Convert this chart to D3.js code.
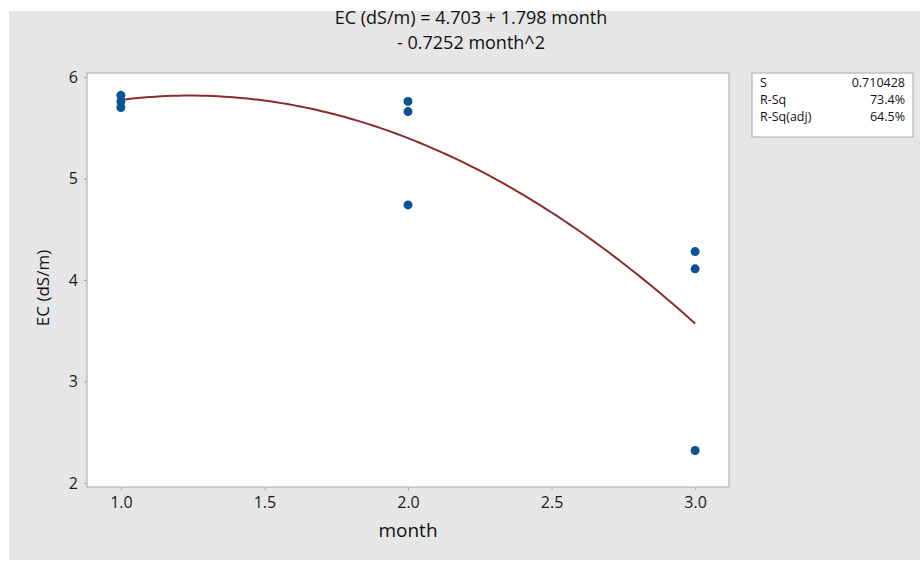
<!DOCTYPE html>
<html>
<head>
<meta charset="utf-8">
<script src="https://cdn.jsdelivr.net/npm/d3@7"></script>
<style>
  body{margin:0;background:#fff;}
  svg{display:block;font-family:"Open Sans","Noto Sans",sans-serif;}
</style>
</head>
<body>
<svg id="svg" width="922" height="561"></svg>
<script>
const months=[1,1,1,2,2,2,3,3,3];
const ecValues=[5.82,5.76,5.70,5.76,5.66,4.74,4.28,4.11,2.32];
// fitted quadratic: b0 + b1*month + b2*month^2
const coefs=[4.703,1.798,-0.7252];
const xTicks=[1.0,1.5,2.0,2.5,3.0];
const yTicks=[2,3,4,5,6];
const titleLines=["EC (dS/m) = 4.703 + 1.798 month","- 0.7252 month^2"];
const statLabels=["S","R-Sq","R-Sq(adj)"];
const statValues=["0.710428","73.4%","64.5%"];

const plot={left:87,top:73,right:729,bottom:487};
const svg=d3.select("#svg");

//gray figure background
svg.append("rect")
    .attr("x",9).attr("y",11).attr("width",911).attr("height",549)
    .attr("fill","#e6e6e6")

var x=d3.scaleLinear().domain([0.882,3.118]).range([plot.left,plot.right]);
var y=d3.scaleLinear().domain([1.96,6.04]).range([plot.bottom,plot.top]);

//plot area
svg.append("rect")
    .attr("x",plot.left).attr("y",plot.top)
    .attr("width",plot.right-plot.left).attr("height",plot.bottom-plot.top)
    .attr("fill","#fff").attr("stroke","#a9a9a9").attr("stroke-width",1)

//axes
var xAxis=svg.append("g")
    .attr("transform","translate(0,"+plot.bottom+")")
    .call(d3.axisBottom(x).tickValues(xTicks).tickFormat(d3.format(".1f")).tickSize(3).tickPadding(7))
var yAxis=svg.append("g")
    .attr("transform","translate("+plot.left+",0)")
    .call(d3.axisLeft(y).tickValues(yTicks).tickFormat(d3.format("d")).tickSize(3).tickPadding(6))

;[xAxis,yAxis].forEach(a=>{
    a.select(".domain").remove();
    a.selectAll("line").attr("stroke","#a9a9a9");
    a.selectAll("text").attr("fill","#1a1a1a").style("font-size","16px").attr("font-family","Open Sans");
})

//fit curve
var curveX=d3.range(1,3.0001,0.02);
var line=d3.line().x(d=>x(d)).y(d=>y(coefs[0]+coefs[1]*d+coefs[2]*d*d));
svg.append("path")
    .datum(curveX)
    .attr("d",line)
    .attr("fill","none")
    .attr("stroke","#8a2c2c")
    .attr("stroke-width",2)

//points
svg.selectAll("circle.pt")
    .data(months.map((m,i)=>({m:m,v:ecValues[i]})))
    .enter().append("circle")
        .attr("class","pt")
        .attr("cx",d=>x(d.m))
        .attr("cy",d=>y(d.v))
        .attr("r",4.5)
        .attr("fill","#0b5391")

//title
svg.selectAll("text.title")
    .data(titleLines).enter().append("text")
        .attr("class","title")
        .attr("x",471)
        .attr("y",(d,i)=>24+i*25)
        .attr("text-anchor","middle")
        .style("font-size","18px")
        .attr("fill","#111")
        .text(d=>d)

//axis titles
svg.append("text")
    .attr("x",(plot.left+plot.right)/2).attr("y",537)
    .attr("text-anchor","middle").style("font-size","19px").attr("fill","#111")
    .text("month")
svg.append("text")
    .attr("transform","translate(49,"+((plot.top+plot.bottom)/2+8)+") rotate(-90)")
    .attr("text-anchor","middle").style("font-size","17px").attr("fill","#111")
    .text("EC (dS/m)")

//stats box
var box=svg.append("g")
box.append("rect")
    .attr("x",752).attr("y",73).attr("width",161).attr("height",64)
    .attr("fill","#fff").attr("stroke","#a9a9a9")
box.selectAll("text.lab")
    .data(statLabels).enter().append("text")
        .attr("class","lab")
        .attr("x",760).attr("y",(d,i)=>87+i*17)
        .style("font-size","12.5px").attr("fill","#111")
        .text(d=>d)
box.selectAll("text.val")
    .data(statValues).enter().append("text")
        .attr("class","val")
        .attr("x",905).attr("y",(d,i)=>87+i*17)
        .attr("text-anchor","end")
        .style("font-size","12.5px").attr("fill","#111")
        .text(d=>d)
</script>
</body>
</html>
